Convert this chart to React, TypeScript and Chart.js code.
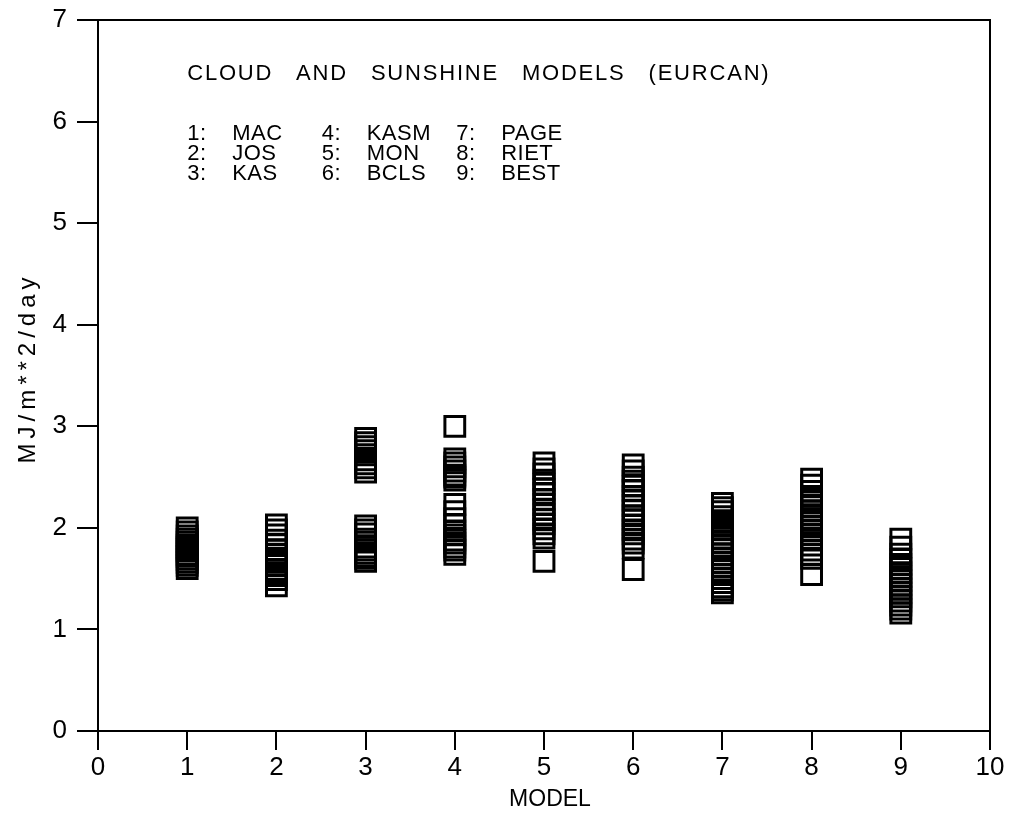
import React, { useEffect, useRef } from "react";
import { Chart, registerables } from "chart.js";

Chart.register(...registerables);

// Model numbers on the x axis and their names
const modelIds = [1, 2, 3, 4, 5, 6, 7, 8, 9];
const modelNames = ["MAC", "JOS", "KAS", "KASM", "MON", "BCLS", "PAGE", "RIET", "BEST"];

// Values (MJ/m**2/day) read for each model
const macValues = [2.0, 1.96, 1.92, 1.89, 1.86, 1.83, 1.81, 1.79, 1.77, 1.74, 1.72, 1.69, 1.66, 1.63, 1.6];
const josValues = [2.03, 1.98, 1.93, 1.88, 1.84, 1.78, 1.74, 1.7, 1.66, 1.63, 1.59, 1.56, 1.53, 1.49, 1.43];
const kasValues = [2.88, 2.84, 2.8, 2.76, 2.72, 2.67, 2.63, 2.59, 2.55, 2.02, 1.98, 1.94, 1.89, 1.86, 1.81, 1.78, 1.75, 1.72, 1.7, 1.67];
const kasmValues = [3.0, 2.68, 2.64, 2.6, 2.56, 2.52, 2.5, 2.47, 2.23, 2.16, 2.09, 2.03, 1.97, 1.93, 1.88, 1.85, 1.81, 1.78, 1.74];
const monValues = [2.64, 2.58, 2.53, 2.47, 2.43, 2.38, 2.34, 2.28, 2.23, 2.18, 2.13, 2.08, 2.04, 1.99, 1.94, 1.9, 1.67];
const bclsValues = [2.62, 2.56, 2.5, 2.46, 2.41, 2.37, 2.31, 2.27, 2.22, 2.17, 2.12, 2.08, 2.03, 1.98, 1.94, 1.89, 1.85, 1.8, 1.59];
const pageValues = [2.24, 2.2, 2.16, 2.11, 2.07, 2.03, 1.98, 1.94, 1.9, 1.86, 1.82, 1.79, 1.74, 1.7, 1.66, 1.62, 1.58, 1.54, 1.5, 1.46, 1.42, 1.39, 1.36];
const rietValues = [2.48, 2.42, 2.36, 2.31, 2.26, 2.21, 2.17, 2.13, 2.09, 2.05, 2.01, 1.97, 1.93, 1.88, 1.83, 1.78, 1.74, 1.7, 1.54];
const bestValues = [1.89, 1.81, 1.74, 1.69, 1.64, 1.6, 1.56, 1.52, 1.48, 1.44, 1.4, 1.36, 1.32, 1.28, 1.24, 1.2, 1.16];

const allValues = [macValues, josValues, kasValues, kasmValues, monValues, bclsValues, pageValues, rietValues, bestValues];

const xTicks = [0, 1, 2, 3, 4, 5, 6, 7, 8, 9, 10];
const yTicks = [0, 1, 2, 3, 4, 5, 6, 7];

const chartTitle = "CLOUD AND SUNSHINE MODELS (EURCAN)";
const xTitle = "MODEL";
const yTitle = "MJ/m**2/day";

const FONT = '"Liberation Sans", Arial, sans-serif';

const annotationPlugin = {
  id: "annotations",
  afterDraw(chart: any) {
    const { ctx, chartArea, scales } = chart;
    const x = scales.x;
    ctx.save();
    // frame top and right
    ctx.strokeStyle = "#000";
    ctx.lineWidth = 2;
    ctx.beginPath();
    ctx.moveTo(chartArea.left, chartArea.top);
    ctx.lineTo(chartArea.right, chartArea.top);
    ctx.lineTo(chartArea.right, chartArea.bottom);
    ctx.stroke();

    ctx.fillStyle = "#000";
    ctx.textBaseline = "middle";
    ctx.textAlign = "left";
    ctx.font = `22px ${FONT}`;
    ctx.letterSpacing = "1.8px";
    ctx.wordSpacing = "15px";
    const left = x.getPixelForValue(1);
    ctx.fillText(chartTitle, left, chartArea.top + 54);

    ctx.letterSpacing = "0.5px";
    ctx.wordSpacing = "0px";
    const colStep = 134.5;
    const nameOffset = 45;
    const rowTop = chartArea.top + 114;
    const rowStep = 20;
    modelIds.forEach((id, i) => {
      const col = Math.floor(i / 3);
      const row = i % 3;
      const cx = left + col * colStep;
      const cy = rowTop + row * rowStep;
      ctx.fillText(`${id}:`, cx, cy);
      ctx.fillText(modelNames[i], cx + nameOffset, cy);
    });

    // axis titles
    ctx.textAlign = "center";
    ctx.letterSpacing = "0px";
    ctx.font = `23px ${FONT}`;
    ctx.fillText(xTitle, x.getPixelForValue(5) + 6, 800);

    ctx.translate(28, 368);
    ctx.rotate(-Math.PI / 2);
    ctx.font = `24px ${FONT}`;
    ctx.letterSpacing = "5px";
    ctx.fillText(yTitle, 0, 0);
    ctx.restore();
  },
};

export default function App() {
  const canvasRef = useRef<HTMLCanvasElement | null>(null);

  useEffect(() => {
    document.body.style.margin = "0";
    const canvas = canvasRef.current;
    if (!canvas) return;
    const datasets = allValues.map((vals, i) => ({
      label: modelNames[i],
      data: vals.map((v) => ({ x: modelIds[i], y: v })),
      pointStyle: "rect" as const,
      pointRadius: 14,
      pointHoverRadius: 14,
      borderWidth: 3,
      borderColor: "#000",
      backgroundColor: "rgba(0,0,0,0)",
      showLine: false,
    }));
    const chart = new Chart(canvas, {
      type: "scatter",
      data: { datasets },
      options: {
        animation: false,
        responsive: false,
        devicePixelRatio: 1,
        events: [],
        layout: { padding: { left: 0, right: 21, top: 20, bottom: 0 } },
        plugins: {
          legend: { display: false },
          tooltip: { enabled: false },
          title: { display: false },
        },
        scales: {
          x: {
            type: "linear",
            min: 0,
            max: 10,
            afterBuildTicks: (s: any) => {
              s.ticks = xTicks.map((v) => ({ value: v }));
            },
            ticks: { color: "#000", font: { family: FONT, size: 26 }, padding: 2, maxRotation: 0, autoSkip: false },
            grid: { drawOnChartArea: false, drawTicks: true, tickLength: 19, color: "#000", lineWidth: 2 },
            border: { display: true, color: "#000", width: 2 },
            afterFit: (s: any) => {
              s.height = 84;
              s.paddingLeft = 0;
              s.paddingRight = 0;
            },
          },
          y: {
            type: "linear",
            min: 0,
            max: 7,
            afterBuildTicks: (s: any) => {
              s.ticks = yTicks.map((v) => ({ value: v }));
            },
            ticks: { color: "#000", font: { family: FONT, size: 26 }, padding: 10, autoSkip: false },
            grid: { drawOnChartArea: false, drawTicks: true, tickLength: 21, color: "#000", lineWidth: 2 },
            border: { display: true, color: "#000", width: 2 },
            afterFit: (s: any) => {
              s.width = 98;
              s.paddingTop = 0;
              s.paddingBottom = 0;
            },
          },
        },
      },
      plugins: [annotationPlugin],
    });
    return () => chart.destroy();
  }, []);

  return (
    <div style={{ width: 1011, height: 815, background: "#fff" }}>
      <canvas ref={canvasRef} width={1011} height={815} />
    </div>
  );
}
